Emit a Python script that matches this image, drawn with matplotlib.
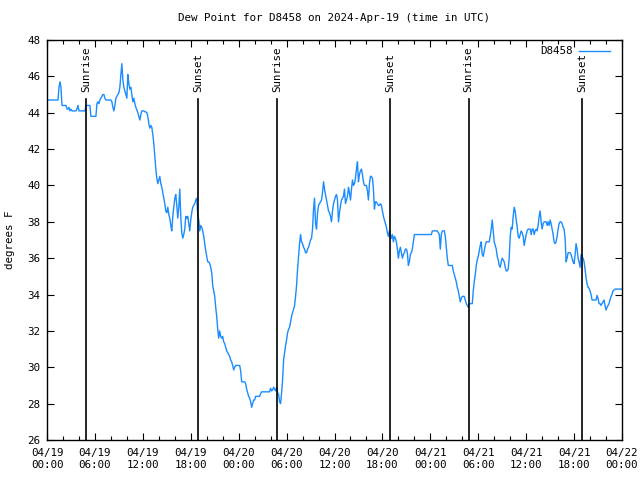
import matplotlib
matplotlib.use("Agg")
import matplotlib.pyplot as plt
import matplotlib.dates as mdates
import pandas as pd
import numpy as np

title = "Dew Point for D8458 on 2024-Apr-19 (time in UTC)"
series_name = "D8458"
ylabel = "degrees F"
start_time = "2024-04-19 00:00"
end_time = "2024-04-22 00:00"
sample_freq = "7.5min"

# Dew point readings, one row per hour (8 samples of 7.5 minutes each)
dewpoint = [
    44.7, 44.7, 44.7, 44.7, 44.7, 44.7, 44.7, 44.7,
    44.7, 44.7, 44.7, 44.7, 45.4, 45.7, 45.4, 44.4,
    44.4, 44.4, 44.4, 44.4, 44.2, 44.2, 44.3, 44.1,
    44.2, 44.1, 44.1, 44.1, 44.1, 44.1, 44.2, 44.4,
    44.1, 44.1, 44.1, 44.1, 44.1, 44.1, 44.1, 44.4,
    44.4, 44.4, 44.4, 44.4, 43.8, 43.8, 43.8, 43.8,
    43.8, 43.8, 44.5, 44.6, 44.5, 44.7, 44.8, 44.9,
    45.0, 45.0, 44.8, 44.7, 44.7, 44.7, 44.7, 44.7,
    44.7, 44.6, 44.3, 44.1, 44.4, 44.8, 44.9, 45.0,
    45.1, 45.4, 46.1, 46.7, 45.8, 45.4, 45.2, 45.0,
    44.8, 46.1, 45.6, 45.3, 45.4, 45.0, 44.6, 44.8,
    44.5, 44.3, 44.15, 44.0, 43.8, 43.6, 43.9, 44.1,
    44.1, 44.1, 44.05, 44.05, 44.0, 43.8, 43.4, 43.15,
    43.3, 43.2, 42.8, 42.3, 41.6, 40.9, 40.4, 40.1,
    40.3, 40.5, 40.1, 39.9, 39.6, 39.3, 39.0, 38.6,
    38.5, 38.8, 38.4, 38.2, 37.8, 37.5, 38.3, 38.8,
    39.3, 39.5, 38.9, 38.2, 38.8, 39.8, 38.3, 37.4,
    37.1, 37.3, 37.6, 38.3, 38.2, 38.3, 37.9, 37.5,
    38.1, 38.5, 38.8, 38.9, 39.0, 39.2, 39.3, 38.4,
    38.1, 37.5, 37.8, 37.7, 37.5, 37.2, 36.8, 36.4,
    36.1, 35.8, 35.8, 35.7, 35.5, 35.2, 34.5, 34.2,
    33.9, 33.3, 32.8, 32.1, 31.6, 32.0, 31.7, 31.6,
    31.7, 31.4, 31.3, 31.1, 30.9, 30.8, 30.7, 30.6,
    30.4, 30.3, 30.1, 29.85, 30.0, 30.1, 30.1, 30.1,
    30.1, 30.1, 29.8, 29.2, 29.2, 29.2, 29.2, 29.1,
    28.8, 28.6, 28.4, 28.3, 28.1, 27.8, 28.0, 28.2,
    28.2, 28.4, 28.4, 28.4, 28.4, 28.4, 28.55, 28.65,
    28.65, 28.65, 28.65, 28.65, 28.65, 28.65, 28.65, 28.65,
    28.85, 28.7, 28.75, 28.9, 28.8, 28.7, 28.9, 28.6,
    28.5, 28.1, 28.0, 28.6, 29.3, 30.4, 30.8, 31.2,
    31.5, 31.9, 32.1, 32.2, 32.5, 32.8, 33.0, 33.2,
    33.4, 33.9, 34.5, 35.4, 36.1, 36.8, 37.3, 36.9,
    36.8, 36.6, 36.5, 36.3, 36.3, 36.5, 36.6, 36.8,
    37.0, 37.1, 37.6, 38.7, 39.3, 37.9, 37.6, 38.5,
    38.9, 39.0, 39.1, 39.2, 39.6, 40.2, 39.8, 39.5,
    39.2, 38.9, 38.6, 38.5, 38.3, 38.0, 38.6, 39.0,
    39.2, 39.4, 39.5, 39.2, 38.0, 38.5, 38.9, 39.2,
    39.3, 39.4, 39.8, 39.0, 39.2, 39.4, 39.9, 39.6,
    39.2, 39.8, 40.3, 40.0, 40.1, 40.4, 40.9, 41.3,
    40.2, 40.6, 40.8, 40.9, 40.6, 40.2, 40.0, 40.0,
    40.0, 39.7, 39.2, 40.1, 40.5, 40.5, 40.4, 39.8,
    38.7, 39.1, 39.1, 39.0, 38.9, 38.9, 39.0, 38.9,
    38.6, 38.3, 38.1, 37.9, 37.7, 37.4, 37.2, 37.5,
    37.3, 37.1, 37.3, 36.9, 37.2, 37.1, 36.9, 36.5,
    36.0, 36.4, 36.6, 36.3, 36.0, 36.2, 36.3, 36.5,
    36.5, 36.3, 35.6, 35.8, 36.2, 36.3, 36.5, 36.9,
    37.3, 37.3, 37.3, 37.3, 37.3, 37.3, 37.3, 37.3,
    37.3, 37.3, 37.3, 37.3, 37.3, 37.3, 37.3, 37.3,
    37.3, 37.3, 37.5, 37.5, 37.5, 37.5, 37.5, 37.5,
    37.4, 37.3, 36.5, 37.3, 37.5, 37.5, 37.5, 37.2,
    36.6, 36.0, 35.6, 35.6, 35.6, 35.6, 35.6, 35.3,
    35.1, 34.9, 34.7, 34.4, 34.2, 33.9, 33.6, 33.8,
    33.9, 33.9, 33.9, 33.7, 33.5, 33.4, 33.3, 33.5,
    33.5, 33.5, 33.5, 34.2, 34.7, 35.1, 35.6, 35.9,
    36.1, 36.4, 36.7, 36.9, 36.2, 36.1, 36.4, 36.7,
    36.9, 36.9, 36.9, 36.9, 37.2, 37.6, 38.1, 37.5,
    36.9, 36.7, 36.5, 36.1, 35.9, 35.6, 35.5, 35.8,
    36.0, 35.9, 35.8, 35.5, 35.3, 35.3, 35.4, 36.0,
    37.2, 37.7, 37.6, 38.3, 38.8, 38.6, 38.1, 37.7,
    37.2, 37.1, 37.3, 37.5, 37.4, 37.2, 36.7, 37.0,
    37.3, 37.5, 37.6, 37.6, 37.6, 37.3, 37.6, 37.6,
    37.3, 37.5, 37.6, 37.5, 37.8, 38.3, 38.6, 38.0,
    37.6, 37.9, 38.0, 38.0, 38.0, 37.8, 38.0, 37.8,
    38.1, 37.9, 37.6, 37.3, 36.9, 36.8, 36.9, 37.2,
    37.6, 37.9, 38.0, 38.0, 37.9, 37.7, 37.6, 37.1,
    35.8, 36.0, 36.3, 36.3, 36.3, 36.2, 36.0, 35.8,
    35.7, 36.2, 36.8, 36.5, 36.0, 35.8, 35.5, 36.2,
    36.1, 36.0, 35.8, 35.4, 34.9, 34.6, 34.4, 34.35,
    34.2, 34.0, 33.7, 33.7, 33.7, 33.7, 33.7, 33.95,
    33.8, 33.5, 33.5, 33.4, 33.5, 33.6, 33.7, 33.4,
    33.15, 33.3, 33.4, 33.5, 33.7, 33.9, 34.0, 34.2,
    34.25, 34.3, 34.3, 34.3, 34.3, 34.3, 34.3, 34.3,
    34.3,
]

sun_events = ["Sunrise", "Sunset", "Sunrise", "Sunset", "Sunrise", "Sunset"]
sun_times = ["2024-04-19 04:52", "2024-04-19 18:57", "2024-04-20 04:50",
             "2024-04-20 18:59", "2024-04-21 04:48", "2024-04-21 19:01"]

y_min, y_max, y_step = 26, 48, 2

times = pd.date_range(start=start_time, periods=len(dewpoint), freq=sample_freq)

plt.rcParams['font.family'] = ['DejaVu Sans Mono']
fig = plt.figure(figsize=(6.4, 4.8), dpi=100)
ax = fig.add_axes([47/640, 40/480, 575/640, 400/480])

ax.plot(times, dewpoint, color='#1a8cff', lw=1.0, label=series_name)

for name, t in zip(sun_events, sun_times):
    tt = pd.Timestamp(t)
    ax.axvline(tt, ymin=0, ymax=0.8525, color='black', lw=1.2)
    ax.text(tt, 0.87, name, transform=ax.get_xaxis_transform(), rotation=90,
            ha='center', va='bottom', fontsize=7.8)

ax.set_xlim(pd.Timestamp(start_time), pd.Timestamp(end_time))
ax.set_ylim(y_min, y_max)
ax.set_yticks(np.arange(y_min, y_max + 1, y_step))
ax.xaxis.set_major_locator(mdates.HourLocator(byhour=range(0, 24, 6)))
ax.xaxis.set_minor_locator(mdates.HourLocator(interval=2))
ax.xaxis.set_major_formatter(mdates.DateFormatter('%m/%d\n%H:%M'))

ax.tick_params(axis='both', which='major', direction='in', length=5, width=0.8,
               top=True, right=True, labelsize=7.8, pad=5)
ax.tick_params(axis='x', which='minor', direction='in', length=3, width=0.8, top=True)
ax.tick_params(axis='x', which='major', pad=6)
for s in ax.spines.values():
    s.set_linewidth(1.0)

ax.set_title(title, fontsize=7.8, pad=14)
fig.text(10/640, 240/480, ylabel, rotation=90, ha='center', va='center', fontsize=7.8)

leg = ax.legend(loc='upper right', frameon=False, fontsize=7.8, handlelength=2.8,
                markerfirst=False, borderaxespad=0.2, handletextpad=0.6,
                bbox_to_anchor=(0.99, 1.0))

fig.savefig('out.png', dpi=100)
